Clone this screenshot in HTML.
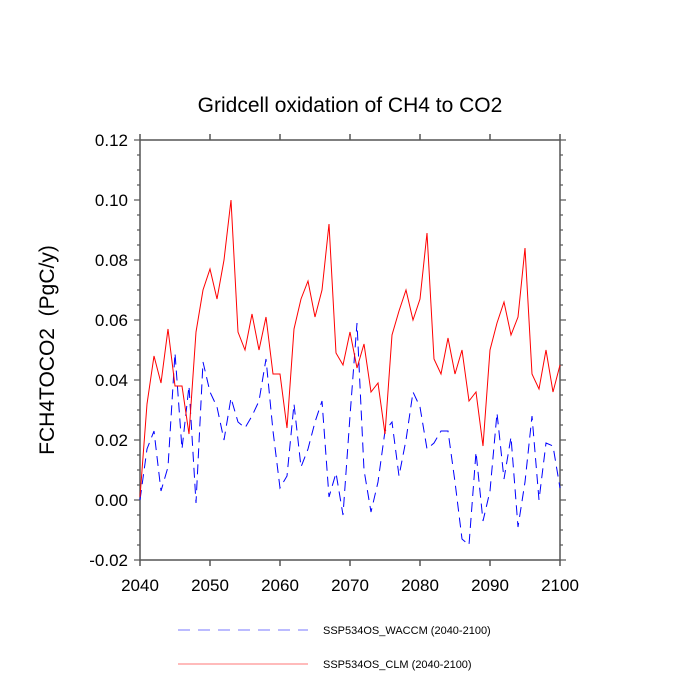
<!DOCTYPE html>
<html><head><meta charset="utf-8"><style>
body{margin:0;background:#fff}
svg{display:block;font-family:"Liberation Sans",sans-serif}
</style></head><body>
<svg id="chart" width="700" height="700">
<text x="350" y="112" text-anchor="middle" font-size="21">Gridcell oxidation of CH4 to CO2</text>
<text transform="translate(54,350) rotate(-90)" text-anchor="middle" font-size="21" xml:space="preserve">FCH4TOCO2  (PgC/y)</text>
<g id="axes"></g>
<g id="series"></g>
<g>
<line x1="178" y1="630" x2="308" y2="630" stroke="#7777ff" stroke-dasharray="12,8"/>
<text x="323" y="634" font-size="11">SSP534OS_WACCM (2040-2100)</text>
<line x1="178" y1="664" x2="308" y2="664" stroke="#ff7777"/>
<text x="323" y="668" font-size="11">SSP534OS_CLM (2040-2100)</text>
</g>
</svg>
<script>
const years=[];for(let y=2040;y<=2100;y++)years.push(y);
const clm=[0.001,0.032,0.048,0.039,0.057,0.038,0.038,0.022,0.056,0.070,0.077,0.067,0.080,0.100,0.056,0.050,0.062,0.050,0.061,0.042,0.042,0.024,0.057,0.067,0.073,0.061,0.070,0.092,0.049,0.045,0.056,0.044,0.052,0.036,0.039,0.022,0.055,0.063,0.070,0.060,0.067,0.089,0.047,0.042,0.054,0.042,0.050,0.033,0.036,0.018,0.050,0.059,0.066,0.055,0.061,0.084,0.042,0.037,0.050,0.036,0.045];
const waccm=[0.000,0.017,0.023,0.003,0.011,0.049,0.017,0.038,-0.001,0.046,0.036,0.031,0.020,0.034,0.026,0.024,0.028,0.033,0.047,0.023,0.004,0.008,0.032,0.011,0.017,0.026,0.033,0.001,0.009,-0.005,0.028,0.059,0.010,-0.004,0.006,0.023,0.026,0.008,0.020,0.036,0.031,0.017,0.019,0.023,0.023,0.006,-0.013,-0.015,0.016,-0.007,0.003,0.029,0.007,0.021,-0.009,0.006,0.028,0.000,0.019,0.018,0.004];
const xTicks=[2040,2050,2060,2070,2080,2090,2100];
const yTicks=[-0.02,0,0.02,0.04,0.06,0.08,0.10,0.12];
const yTickLabels=["-0.02","0.00","0.02","0.04","0.06","0.08","0.10","0.12"];
const X0=140,X1=560,Y0=140,Y1=560;
const sx=v=>X0+(v-2040)/60*(X1-X0);
const sy=v=>Y1-(v+0.02)/0.14*(Y1-Y0);
const NS="http://www.w3.org/2000/svg";
function mk(t,a,p){const e=document.createElementNS(NS,t);for(const k in a)e.setAttribute(k,a[k]);p.appendChild(e);return e;}
const ax=document.getElementById('axes');
const frame=mk('rect',{x:X0,y:Y0,width:X1-X0,height:Y1-Y0,fill:'none',stroke:'#555','stroke-width':1.5},ax);


xTicks.forEach(v=>{
 const x=sx(v);
 const t=mk('line',{x1:x,y1:Y1,x2:x,y2:Y1+6,stroke:'#555','stroke-width':1.5},ax);
 
 
 const t2=mk('line',{x1:x,y1:Y0,x2:x,y2:Y0-6,stroke:'#555','stroke-width':1.5},ax);
 
 
 const l=mk('text',{x:x,y:Y1+31,'text-anchor':'middle','font-size':17},ax);l.textContent=v;
 
 
});
for(let v=-0.02;v<=0.1201;v+=0.005){
 const y=sy(v);const major=Math.abs(Math.round(v/0.02)*0.02-v)<1e-6;const len=major?6:3;
 const a=mk('line',{x1:X0,y1:y,x2:X0-len,y2:y,stroke:'#555','stroke-width':1.2},ax);
 
 
 const b=mk('line',{x1:X1,y1:y,x2:X1+len,y2:y,stroke:'#555','stroke-width':1.2},ax);
 
 
}
yTicks.forEach((v,i)=>{
 const l=mk('text',{x:X0-12,y:sy(v)+6,'text-anchor':'end','font-size':17},ax);l.textContent=yTickLabels[i];
 
 
});
const sg=document.getElementById('series');
function pts(arr){return arr.map((v,i)=>sx(years[i]).toFixed(1)+','+sy(v).toFixed(1)).join(' ');}
const w=mk('polyline',{points:pts(waccm),fill:'none',stroke:'#0000ff','stroke-width':1,'stroke-dasharray':'10,6'},sg);


const c=mk('polyline',{points:pts(clm),fill:'none',stroke:'#ff0000','stroke-width':1},sg);


</script>
</body></html>
